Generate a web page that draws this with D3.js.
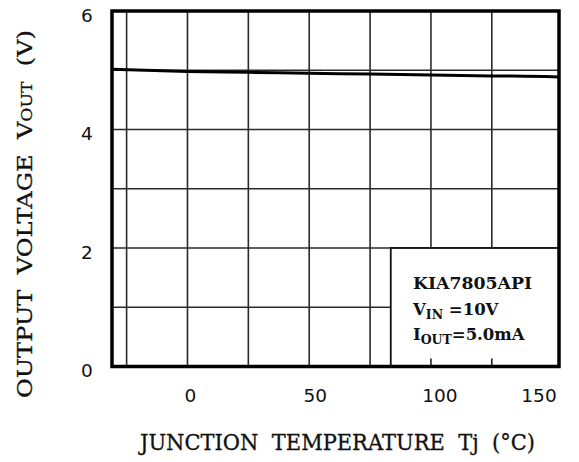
<!DOCTYPE html>
<html><head><meta charset="utf-8">
<script src="https://cdn.jsdelivr.net/npm/d3@7"></script>
<style>body{margin:0;background:#fff}svg{display:block}</style>
</head><body>
<script>
const temps = [-31, 0, 25, 50, 75, 100, 125, 150, 152.6];
const vout = [5.015, 4.98, 4.965, 4.95, 4.935, 4.92, 4.905, 4.89, 4.886];
const xTickValues = [0, 50, 100, 150];
const yTickValues = [0, 2, 4, 6];
const xGrid = [-25, 0, 25, 50, 75, 100, 125];
const yGrid = [1, 2, 3, 4, 5];
const legendLines = ["KIA7805API", ["V", "IN", " =10V"], ["I", "OUT", "=5.0mA"]];
const xDomain = [-31, 152.6];
const yDomain = [0, 6];

const W = 579, H = 462;
const svg = d3.select("body").append("svg").attr("width", W).attr("height", H);
const x = d3.scaleLinear().domain(xDomain).range([112, 559]);
const y = d3.scaleLinear().domain(yDomain).range([366.5, 11]);

svg.append("defs").append("clipPath").attr("id", "clip")
  .append("rect").attr("x", x(xDomain[0])).attr("y", y(6))
  .attr("width", x(xDomain[1]) - x(xDomain[0])).attr("height", y(0) - y(6));

const g = svg.append("g");
// grid
g.selectAll(".vg").data(xGrid).join("line")
  .attr("x1", d => x(d)).attr("x2", d => x(d)).attr("y1", y(0)).attr("y2", y(6))
  .attr("stroke", "#2a2a2a").attr("stroke-width", 1.6);
g.selectAll(".hg").data(yGrid).join("line")
  .attr("x1", x(xDomain[0])).attr("x2", x(xDomain[1])).attr("y1", d => y(d)).attr("y2", d => y(d))
  .attr("stroke", "#2a2a2a").attr("stroke-width", 1.6);

// curve
const line = d3.line().x((d, i) => x(temps[i])).y(d => y(d)).curve(d3.curveMonotoneX);
g.append("path").datum(vout).attr("d", line).attr("fill", "none")
  .attr("stroke", "#000").attr("stroke-width", 3).attr("clip-path", "url(#clip)");

// legend box
const lx = x(83.5);
g.append("rect").attr("x", lx).attr("y", y(2)).attr("width", x(xDomain[1]) - lx)
  .attr("height", y(0) - y(2)).attr("fill", "#fff").attr("stroke", "#111").attr("stroke-width", 1.8);
g.selectAll(".lt").data([100, 125]).join("line")
  .attr("x1", d => x(d)).attr("x2", d => x(d)).attr("y1", y(0) - 8).attr("y2", y(0))
  .attr("stroke", "#222").attr("stroke-width", 1.6);

const baseY = [289, 314.5, 340];
legendLines.forEach((ln, i) => {
  const t = g.append("text").attr("x", 413).attr("y", baseY[i])
    .attr("font-family", "DejaVu Serif").attr("font-size", 16.5).attr("font-weight", "bold")
    .attr("fill", "#111").style("white-space", "pre");
  if (typeof ln === "string") { t.text(ln).attr("textLength", 119).attr("lengthAdjust", "spacingAndGlyphs"); }
  else {
    t.append("tspan").text(ln[0]);
    t.append("tspan").text(ln[1]).attr("font-size", 12.5).attr("dy", 4);
    t.append("tspan").text(ln[2]).attr("dy", -4);
  }
});

// border
g.append("rect").attr("x", x(xDomain[0])).attr("y", y(6))
  .attr("width", x(xDomain[1]) - x(xDomain[0])).attr("height", y(0) - y(6))
  .attr("fill", "none").attr("stroke", "#000").attr("stroke-width", 3.5);

// tick labels
svg.selectAll(".yl").data(yTickValues).join("text")
  .attr("x", 87).attr("y", d => y(d) + 4).attr("dominant-baseline", "central")
  .attr("text-anchor", "middle").attr("font-family", "DejaVu Sans, sans-serif")
  .attr("font-size", 18.5).attr("fill", "#111").text(d => d);
svg.selectAll(".xl").data(xTickValues).join("text")
  .attr("x", (d, i) => i === xTickValues.length - 1 ? x(d) + 4 : x(d) + 3 + i * 3)
  .attr("y", 402)
  .attr("text-anchor", (d, i) => i === xTickValues.length - 1 ? "end" : "middle")
  .attr("font-family", "DejaVu Sans, sans-serif")
  .attr("font-size", 18.5).attr("fill", "#111").text(d => d);

// axis titles
svg.append("text").attr("x", 140).attr("y", 450)
  .attr("font-family", "DejaVu Serif").attr("font-size", 22).attr("fill", "#111")
  .attr("stroke", "#111").attr("stroke-width", 0.3)
  .attr("textLength", 395).attr("lengthAdjust", "spacingAndGlyphs").style("white-space", "pre")
  .text("JUNCTION  TEMPERATURE  Tj  (°C)");

const yt = svg.append("text").attr("transform", "translate(32,398) rotate(-90)")
  .attr("x", 0).attr("y", 0)
  .attr("font-family", "DejaVu Serif").attr("font-size", 21).attr("fill", "#111")
  .attr("stroke", "#111").attr("stroke-width", 0.3)
  .attr("textLength", 368).attr("lengthAdjust", "spacingAndGlyphs").style("white-space", "pre");
yt.append("tspan").text("OUTPUT  VOLTAGE  V");
yt.append("tspan").text("OUT").attr("font-size", 15);
yt.append("tspan").text("  (V)").attr("font-size", 21);
</script>
</body></html>
